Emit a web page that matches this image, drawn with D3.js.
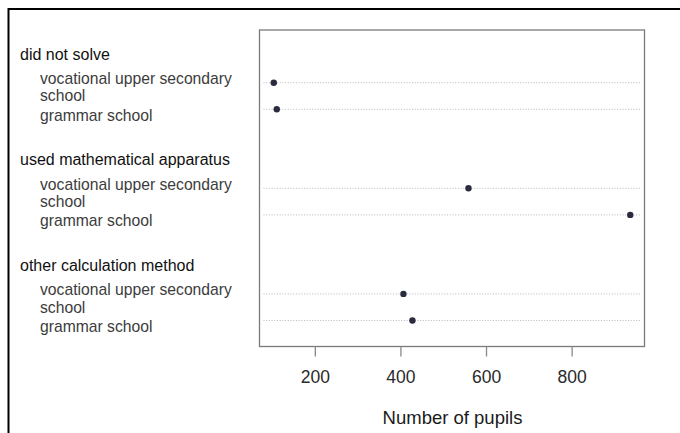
<!DOCTYPE html>
<html>
<head>
<meta charset="utf-8">
<script src="https://cdn.jsdelivr.net/npm/d3@7"></script>
<style>
  body { margin: 0; background: #fff; }
  text { font-family: "Liberation Sans", Arial, sans-serif; }
</style>
</head>
<body>
<script>
// data
var groups = ["did not solve", "used mathematical apparatus", "other calculation method"];
var schools = ["vocational upper secondary school", "grammar school"];
var pupils = [
  [104, 111],
  [559, 937],
  [407, 428]
];
var xTicks = [200, 400, 600, 800];

var W = 680, H = 433;
var box = {left: 259.5, right: 644.5, top: 30, bottom: 346.5};

var svg = d3.select("body").append("svg")
    .attr("width", W)
    .attr("height", H);

// outer frame (only top and left visible)
svg.append("path")
  .attr("d", "M8.5," + H + " L8.5,9 L" + W + ",9")
  .attr("fill", "none")
  .attr("stroke", "#000")
  .attr("stroke-width", 2);

// x scale, R dotchart style: data range padded 4% each side
var lo = d3.min(pupils.flat()), hi = d3.max(pupils.flat());
var pad = (hi - lo) * 0.04;
var x = d3.scaleLinear()
  .domain([lo - pad, hi + pad])
  .range([box.left, box.right]);

// row positions: each group = header line + 2 rows
var rowGap = 26.6, groupGap = 105.6, firstRow = 82.7;
var rows = [];
groups.forEach(function(g, gi) {
  schools.forEach(function(s, si) {
    rows.push({group: g, school: s, value: pupils[gi][si],
               y: firstRow + gi * groupGap + si * rowGap, si: si, gi: gi});
  });
});

// dotted guide lines
svg.selectAll(".guide")
  .data(rows)
  .enter().append("line")
  .attr("class", "guide")
  .attr("x1", box.left + 4)
  .attr("x2", box.right - 3)
  .attr("y1", function(d) { return d.y; })
  .attr("y2", function(d) { return d.y; })
  .attr("stroke", "#b8b8be")
  .attr("stroke-width", 1)
  .attr("stroke-dasharray", "1,1.7");

// points
svg.selectAll(".dot")
  .data(rows)
  .enter().append("circle")
  .attr("class", "dot")
  .attr("cx", function(d) { return x(d.value); })
  .attr("cy", function(d) { return d.y; })
  .attr("r", 3.2)
  .attr("fill", "#2b2b40");

// plot box
svg.append("rect")
  .attr("x", box.left)
  .attr("y", box.top)
  .attr("width", box.right - box.left)
  .attr("height", box.bottom - box.top)
  .attr("fill", "none")
  .attr("stroke", "#7a7a7a")
  .attr("stroke-width", 1.3);

// x axis
var axis = svg.append("g")
  .attr("transform", "translate(0," + box.bottom + ")")
  .call(d3.axisBottom(x).tickValues(xTicks).tickSize(10).tickPadding(14));
axis.select(".domain").remove();
axis.selectAll(".tick line").attr("stroke", "#888").attr("stroke-width", 1.3);
axis.selectAll(".tick text")
  .attr("fill", "#2a2a2a")
  .style("font-size", "17.5px")
  .style("font-family", "'Liberation Sans', Arial, sans-serif");

// x label
svg.append("text")
  .attr("x", (box.left + box.right) / 2 + 0.5)
  .attr("y", 424)
  .attr("text-anchor", "middle")
  .attr("fill", "#1a1a1a")
  .style("font-size", "18.5px")
  .text("Number of pupils");

// group headers
groups.forEach(function(g, gi) {
  svg.append("text")
    .attr("x", 20)
    .attr("y", firstRow + gi * groupGap - 23)
    .attr("fill", "#111")
    .style("font-size", "16px")
    .text(g);
});

// row labels (long name wraps in two lines)
rows.forEach(function(d) {
  if (d.si === 0) {
    var t = svg.append("text")
      .attr("x", 40)
      .attr("y", d.y + 1.3)
      .attr("fill", "#3c3c3c")
      .style("font-size", "15.7px");
    t.append("tspan").attr("x", 40).text("vocational upper secondary");
    t.append("tspan").attr("x", 40).attr("dy", 17.3).text("school");
  } else {
    svg.append("text")
      .attr("x", 40)
      .attr("y", d.y + 11.3)
      .attr("fill", "#3c3c3c")
      .style("font-size", "15.7px")
      .text(d.school);
  }
});
</script>
</body>
</html>
